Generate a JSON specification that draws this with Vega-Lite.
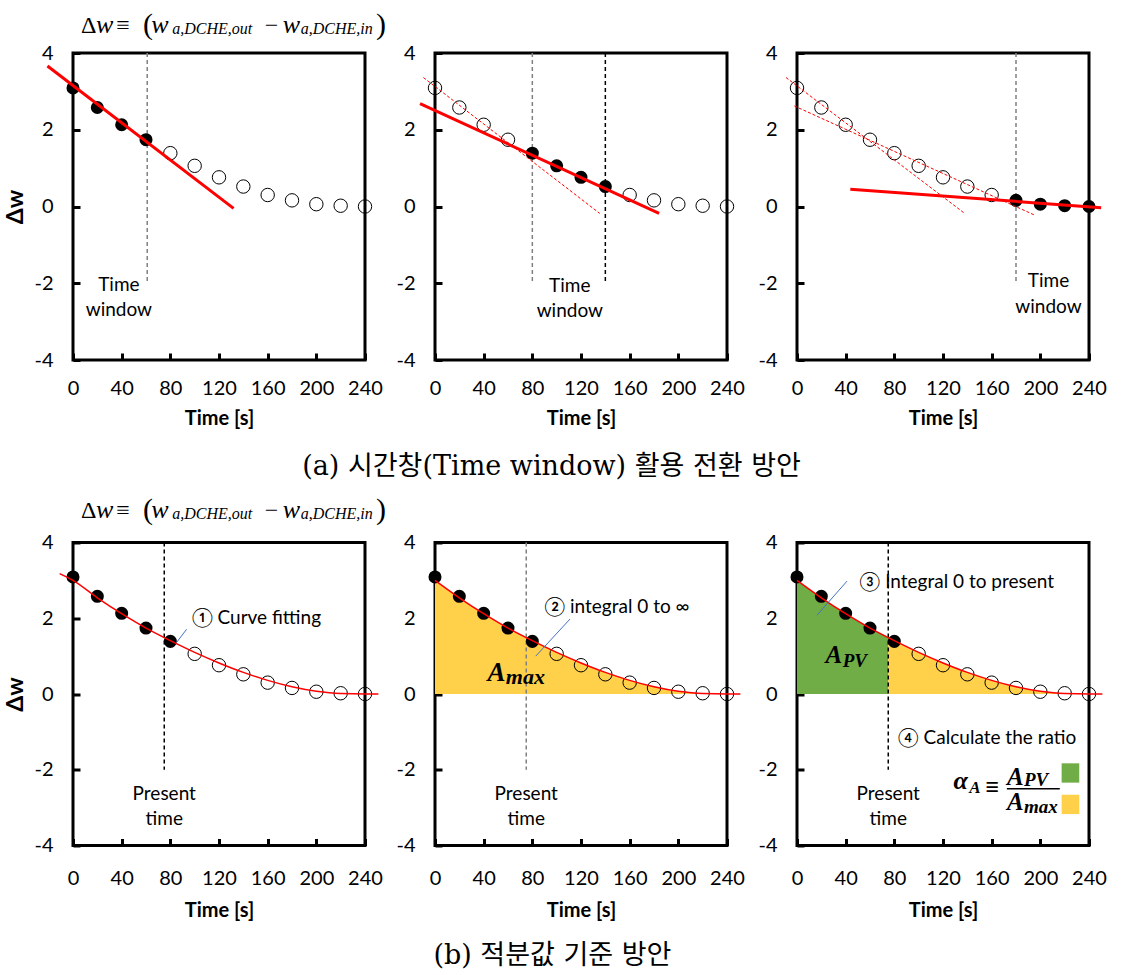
{
"$schema": "https://vega.github.io/schema/vega-lite/v6.json",
"padding": {"left": 3, "top": 8, "right": 0, "bottom": 0},
"background": "white",
"config": {
  "view": {"stroke": "#000", "strokeWidth": 3},
  "axis": {"grid": false, "domain": false, "ticks": true, "tickSize": -7, "tickWidth": 3, "tickColor": "#000", "labelFont": "Lato", "labelFontSize": 20, "labelColor": "#000", "titleFont": "Lato", "titleFontWeight": "bold", "titleColor": "#000", "labelOverlap": false, "labelFlush": false, "labelExpr": "'' + datum.value"},
  "axisX": {"labelPadding": 25, "titleFontSize": 20, "titlePadding": 10, "labelAngle": 0},
  "axisY": {"labelPadding": 27, "titleFontSize": 23, "titlePadding": 6},
  "text": {"font": "Lato", "fontSize": 19, "color": "#000"}
},
"datasets": {
  "pts": [{"x":0,"y":3.09},{"x":20,"y":2.58},{"x":40,"y":2.13},{"x":60,"y":1.74},{"x":80,"y":1.39},{"x":100,"y":1.06},{"x":120,"y":0.76},{"x":140,"y":0.52},{"x":160,"y":0.30},{"x":180,"y":0.16},{"x":200,"y":0.06},{"x":220,"y":0.02},{"x":240,"y":0.0}],
  "curve": [{"x":-11,"y":3.18},{"x":0,"y":3.0},{"x":20,"y":2.54},{"x":40,"y":2.12},{"x":60,"y":1.74},{"x":75,"y":1.49},{"x":80,"y":1.41},{"x":100,"y":1.10},{"x":120,"y":0.82},{"x":140,"y":0.57},{"x":160,"y":0.36},{"x":180,"y":0.19},{"x":200,"y":0.07},{"x":220,"y":0.01},{"x":240,"y":0.0},{"x":251,"y":0.0}]
},
"columns": 3,
"spacing": {"row": 182.5, "column": 70},
"bounds": "flush",
"concat": [
{
  "width": 292, "height": 307,
  "encoding": {
    "x": {"field": "x", "type": "quantitative", "scale": {"domain": [0, 240], "nice": false, "zero": false}, "axis": {"values": [0,40,80,120,160,200,240], "title": "Time [s]"}},
    "y": {"field": "y", "type": "quantitative", "scale": {"domain": [-4, 4], "nice": false}, "axis": {"values": [-4,-2,0,2,4], "title": "Δw"}}
  },
  "layer": [
    {"data": {"values": [{"x": -12, "x2": 251}]}, "mark": {"type": "rule", "color": "#808080", "strokeWidth": 1, "clip": false}, "encoding": {"x2": {"field": "x2"}, "y": {"datum": 0}}},
    {"data": {"values": [{"x": 61, "y": 4, "y2": -2}]}, "mark": {"type": "rule", "color": "#808080", "strokeWidth": 1.5, "strokeDash": [4, 3]}, "encoding": {"y2": {"field": "y2"}}},
    {"data": {"name": "pts"}, "transform": [{"filter": "datum.x > 60"}], "mark": {"type": "point", "shape": "circle", "filled": false, "color": "#000", "strokeWidth": 1, "size": 180, "opacity": 1, "clip": false}},
    {"data": {"name": "pts"}, "transform": [{"filter": "datum.x <= 60"}], "mark": {"type": "circle", "color": "#000", "size": 170, "opacity": 1, "clip": false}},
    {"data": {"values": [{"x": -21, "y": 3.66}, {"x": 132, "y": -0.05}]}, "mark": {"type": "line", "color": "#FF0000", "strokeWidth": 3, "clip": false}},
    {"data": {"values": [{"x": 37.7, "y": -2.04, "t": "Time"}, {"x": 37.7, "y": -2.69, "t": "window"}]}, "mark": {"type": "text", "align": "center", "baseline": "middle"}, "encoding": {"text": {"field": "t"}}},
    {"data": {"values": [{"x": 6.6, "y": 4.53, "t": "Δ"}, {"x": 35.5, "y": 4.53, "t": "≡"}, {"x": 157.5, "y": 4.53, "t": "−"}]}, "mark": {"type": "text", "font": "Liberation Serif", "fontSize": 24, "align": "left", "baseline": "alphabetic"}, "encoding": {"text": {"field": "t"}}},
    {"data": {"values": [{"x": 18.9, "y": 4.53, "t": "w"}, {"x": 64.3, "y": 4.53, "t": "w"}, {"x": 172.4, "y": 4.53, "t": "w"}]}, "mark": {"type": "text", "font": "Liberation Serif", "fontStyle": "italic", "fontSize": 26, "align": "left", "baseline": "alphabetic"}, "encoding": {"text": {"field": "t"}}},
    {"data": {"values": [{"x": 57.5, "y": 4.5, "t": "("}, {"x": 249, "y": 4.5, "t": ")"}]}, "mark": {"type": "text", "font": "Liberation Serif", "fontSize": 30, "align": "left", "baseline": "alphabetic"}, "encoding": {"text": {"field": "t"}}},
    {"data": {"values": [{"x": 81.6, "y": 4.5, "t": "a,DCHE,out"}, {"x": 187.2, "y": 4.5, "t": "a,DCHE,in"}]}, "mark": {"type": "text", "font": "Liberation Serif", "fontStyle": "italic", "fontSize": 16, "align": "left", "baseline": "alphabetic"}, "encoding": {"text": {"field": "t"}}}
  ]
},
{
  "width": 292, "height": 307,
  "encoding": {
    "x": {"field": "x", "type": "quantitative", "scale": {"domain": [0, 240], "nice": false, "zero": false}, "axis": {"values": [0,40,80,120,160,200,240], "title": "Time [s]"}},
    "y": {"field": "y", "type": "quantitative", "scale": {"domain": [-4, 4], "nice": false}, "axis": {"values": [-4,-2,0,2,4], "title": null}}
  },
  "layer": [
    {"data": {"values": [{"x": -12, "x2": 250}]}, "mark": {"type": "rule", "color": "#808080", "strokeWidth": 1, "clip": false}, "encoding": {"x2": {"field": "x2"}, "y": {"datum": 0}}},
    {"data": {"values": [{"x": 80, "y": 4, "y2": -2}]}, "mark": {"type": "rule", "color": "#808080", "strokeWidth": 1.5, "strokeDash": [4, 3]}, "encoding": {"y2": {"field": "y2"}}},
    {"data": {"values": [{"x": 140, "y": 4, "y2": -2}]}, "mark": {"type": "rule", "color": "#000", "strokeWidth": 1.5, "strokeDash": [4, 3]}, "encoding": {"y2": {"field": "y2"}}},
    {"data": {"name": "pts"}, "transform": [{"filter": "datum.x < 80 || datum.x > 140"}], "mark": {"type": "point", "shape": "circle", "filled": false, "color": "#000", "strokeWidth": 1, "size": 180, "opacity": 1, "clip": false}},
    {"data": {"name": "pts"}, "transform": [{"filter": "datum.x >= 80 && datum.x <= 140"}], "mark": {"type": "circle", "color": "#000", "size": 170, "opacity": 1, "clip": false}},
    {"data": {"values": [{"x": -9.5, "y": 3.36}, {"x": 135.4, "y": -0.18}]}, "mark": {"type": "line", "color": "#FF0000", "strokeWidth": 1, "strokeDash": [3, 2], "clip": false}},
    {"data": {"values": [{"x": -12.3, "y": 2.68}, {"x": 184.2, "y": -0.18}]}, "mark": {"type": "line", "color": "#FF0000", "strokeWidth": 3, "clip": false}},
    {"data": {"values": [{"x": 110.8, "y": -2.07, "t": "Time"}, {"x": 110.8, "y": -2.72, "t": "window"}]}, "mark": {"type": "text", "align": "center", "baseline": "middle"}, "encoding": {"text": {"field": "t"}}},
    {"data": {"values": [{"x": 95.8, "y": -6.79, "t": "(a) 시간창(Time window) 활용 전환 방안"}]}, "mark": {"type": "text", "font": "DejaVu Serif, Noto Sans CJK KR", "fontSize": 27, "align": "center", "baseline": "middle"}, "encoding": {"text": {"field": "t"}}}
  ]
},
{
  "width": 292, "height": 307,
  "encoding": {
    "x": {"field": "x", "type": "quantitative", "scale": {"domain": [0, 240], "nice": false, "zero": false}, "axis": {"values": [0,40,80,120,160,200,240], "title": "Time [s]"}},
    "y": {"field": "y", "type": "quantitative", "scale": {"domain": [-4, 4], "nice": false}, "axis": {"values": [-4,-2,0,2,4], "title": null}}
  },
  "layer": [
    {"data": {"values": [{"x": -12, "x2": 250}]}, "mark": {"type": "rule", "color": "#808080", "strokeWidth": 1, "clip": false}, "encoding": {"x2": {"field": "x2"}, "y": {"datum": 0}}},
    {"data": {"values": [{"x": 180, "y": 4, "y2": -2}]}, "mark": {"type": "rule", "color": "#808080", "strokeWidth": 1.5, "strokeDash": [4, 3]}, "encoding": {"y2": {"field": "y2"}}},
    {"data": {"name": "pts"}, "transform": [{"filter": "datum.x < 180"}], "mark": {"type": "point", "shape": "circle", "filled": false, "color": "#000", "strokeWidth": 1, "size": 180, "opacity": 1, "clip": false}},
    {"data": {"name": "pts"}, "transform": [{"filter": "datum.x >= 180"}], "mark": {"type": "circle", "color": "#000", "size": 170, "opacity": 1, "clip": false}},
    {"data": {"values": [{"id": 1, "x": -9, "y": 3.36}, {"id": 1, "x": 137, "y": -0.16}, {"id": 2, "x": -2.2, "y": 2.62}, {"id": 2, "x": 195, "y": -0.22}]}, "mark": {"type": "line", "color": "#FF0000", "strokeWidth": 1, "strokeDash": [3, 2], "clip": false}, "encoding": {"detail": {"field": "id"}}},
    {"data": {"values": [{"x": 43.8, "y": 0.45}, {"x": 250, "y": -0.03}]}, "mark": {"type": "line", "color": "#FF0000", "strokeWidth": 3, "clip": false}},
    {"data": {"values": [{"x": 206.7, "y": -1.94, "t": "Time"}, {"x": 206.7, "y": -2.63, "t": "window"}]}, "mark": {"type": "text", "align": "center", "baseline": "middle"}, "encoding": {"text": {"field": "t"}}}
  ]
},
{
  "width": 292, "height": 303,
  "encoding": {
    "x": {"field": "x", "type": "quantitative", "scale": {"domain": [0, 240], "nice": false, "zero": false}, "axis": {"values": [0,40,80,120,160,200,240], "title": "Time [s]", "labelPadding": 30, "titlePadding": 12}},
    "y": {"field": "y", "type": "quantitative", "scale": {"domain": [-4, 4], "nice": false}, "axis": {"values": [-4,-2,0,2,4], "title": "Δw"}}
  },
  "layer": [
    {"data": {"values": [{"x": -12, "x2": 251}]}, "mark": {"type": "rule", "color": "#808080", "strokeWidth": 1, "clip": false}, "encoding": {"x2": {"field": "x2"}, "y": {"datum": 0}}},
    {"data": {"values": [{"x": 75, "y": 4, "y2": -2}]}, "mark": {"type": "rule", "color": "#000", "strokeWidth": 1.5, "strokeDash": [4, 3]}, "encoding": {"y2": {"field": "y2"}}},
    {"data": {"name": "pts"}, "transform": [{"filter": "datum.x > 80"}], "mark": {"type": "point", "shape": "circle", "filled": false, "color": "#000", "strokeWidth": 1, "size": 180, "opacity": 1, "clip": false}},
    {"data": {"name": "pts"}, "transform": [{"filter": "datum.x <= 80"}], "mark": {"type": "circle", "color": "#000", "size": 170, "opacity": 1, "clip": false}},
    {"data": {"name": "curve"}, "mark": {"type": "line", "color": "#FF0000", "strokeWidth": 1.5, "interpolate": "monotone", "clip": false}},
    {"data": {"values": [{"x": 75, "y": -2.63, "t": "Present"}, {"x": 75, "y": -3.29, "t": "time"}]}, "mark": {"type": "text", "align": "center", "baseline": "middle"}, "encoding": {"text": {"field": "t"}}},
    {"data": {"values": [{"x": 97.5, "y": 2.0, "t": "① Curve fitting"}]}, "mark": {"type": "text", "align": "left", "baseline": "middle"}, "encoding": {"text": {"field": "t"}}},
    {"data": {"values": [{"x": 85.1, "y": 1.36, "x2": 93.4, "y2": 1.71}]}, "mark": {"type": "rule", "color": "#4472C4", "strokeWidth": 1, "clip": false}, "encoding": {"x2": {"field": "x2"}, "y2": {"field": "y2"}}},
    {"data": {"values": [{"x": 6.6, "y": 4.66, "t": "Δ"}, {"x": 35.5, "y": 4.66, "t": "≡"}, {"x": 157.5, "y": 4.66, "t": "−"}]}, "mark": {"type": "text", "font": "Liberation Serif", "fontSize": 24, "align": "left", "baseline": "alphabetic"}, "encoding": {"text": {"field": "t"}}},
    {"data": {"values": [{"x": 18.9, "y": 4.66, "t": "w"}, {"x": 64.3, "y": 4.66, "t": "w"}, {"x": 172.4, "y": 4.66, "t": "w"}]}, "mark": {"type": "text", "font": "Liberation Serif", "fontStyle": "italic", "fontSize": 26, "align": "left", "baseline": "alphabetic"}, "encoding": {"text": {"field": "t"}}},
    {"data": {"values": [{"x": 57.5, "y": 4.63, "t": "("}, {"x": 249, "y": 4.63, "t": ")"}]}, "mark": {"type": "text", "font": "Liberation Serif", "fontSize": 30, "align": "left", "baseline": "alphabetic"}, "encoding": {"text": {"field": "t"}}},
    {"data": {"values": [{"x": 81.6, "y": 4.63, "t": "a,DCHE,out"}, {"x": 187.2, "y": 4.63, "t": "a,DCHE,in"}]}, "mark": {"type": "text", "font": "Liberation Serif", "fontStyle": "italic", "fontSize": 16, "align": "left", "baseline": "alphabetic"}, "encoding": {"text": {"field": "t"}}}
  ]
},
{
  "width": 292, "height": 303,
  "encoding": {
    "x": {"field": "x", "type": "quantitative", "scale": {"domain": [0, 240], "nice": false, "zero": false}, "axis": {"values": [0,40,80,120,160,200,240], "title": "Time [s]", "labelPadding": 30, "titlePadding": 12}},
    "y": {"field": "y", "type": "quantitative", "scale": {"domain": [-4, 4], "nice": false}, "axis": {"values": [-4,-2,0,2,4], "title": null}}
  },
  "layer": [
    {"data": {"name": "curve"}, "transform": [{"filter": "datum.x >= 0 && datum.x <= 220"}], "mark": {"type": "area", "color": "#FFD04A", "opacity": 1, "interpolate": "monotone"}, "encoding": {"y2": {"datum": 0}}},
    {"data": {"values": [{"x": -12, "x2": 250}]}, "mark": {"type": "rule", "color": "#808080", "strokeWidth": 1, "clip": false}, "encoding": {"x2": {"field": "x2"}, "y": {"datum": 0}}},
    {"data": {"values": [{"x": 75, "y": 4, "y2": -2}]}, "mark": {"type": "rule", "color": "#808080", "strokeWidth": 1.5, "strokeDash": [4, 3]}, "encoding": {"y2": {"field": "y2"}}},
    {"data": {"name": "pts"}, "transform": [{"filter": "datum.x > 80"}], "mark": {"type": "point", "shape": "circle", "filled": false, "color": "#000", "strokeWidth": 1, "size": 180, "opacity": 1, "clip": false}},
    {"data": {"name": "pts"}, "transform": [{"filter": "datum.x <= 80"}], "mark": {"type": "circle", "color": "#000", "size": 170, "opacity": 1, "clip": false}},
    {"data": {"name": "curve"}, "transform": [{"filter": "datum.x >= 0"}], "mark": {"type": "line", "color": "#FF0000", "strokeWidth": 1.5, "interpolate": "monotone", "clip": false}},
    {"data": {"values": [{"x": 75, "y": -2.63, "t": "Present"}, {"x": 75, "y": -3.29, "t": "time"}]}, "mark": {"type": "text", "align": "center", "baseline": "middle"}, "encoding": {"text": {"field": "t"}}},
    {"data": {"values": [{"x": 89.7, "y": 2.3, "t": "② integral 0 to ∞"}]}, "mark": {"type": "text", "align": "left", "baseline": "middle"}, "encoding": {"text": {"field": "t"}}},
    {"data": {"values": [{"x": 111, "y": 1.98, "x2": 82.8, "y2": 1.0}]}, "mark": {"type": "rule", "color": "#4472C4", "strokeWidth": 1, "clip": false}, "encoding": {"x2": {"field": "x2"}, "y2": {"field": "y2"}}},
    {"data": {"values": [{"x": 43.2, "y": 0.35, "t": "A"}]}, "mark": {"type": "text", "font": "Liberation Serif", "fontStyle": "italic", "fontWeight": "bold", "fontSize": 27, "align": "left", "baseline": "alphabetic"}, "encoding": {"text": {"field": "t"}}},
    {"data": {"values": [{"x": 58.2, "y": 0.26, "t": "max"}]}, "mark": {"type": "text", "font": "Liberation Serif", "fontStyle": "italic", "fontWeight": "bold", "fontSize": 22, "align": "left", "baseline": "alphabetic"}, "encoding": {"text": {"field": "t"}}},
    {"data": {"values": [{"x": 96.5, "y": -6.92, "t": "(b) 적분값 기준 방안"}]}, "mark": {"type": "text", "font": "DejaVu Serif, Noto Sans CJK KR", "fontSize": 27, "align": "center", "baseline": "middle"}, "encoding": {"text": {"field": "t"}}}
  ]
},
{
  "width": 292, "height": 303,
  "encoding": {
    "x": {"field": "x", "type": "quantitative", "scale": {"domain": [0, 240], "nice": false, "zero": false}, "axis": {"values": [0,40,80,120,160,200,240], "title": "Time [s]", "labelPadding": 30, "titlePadding": 12}},
    "y": {"field": "y", "type": "quantitative", "scale": {"domain": [-4, 4], "nice": false}, "axis": {"values": [-4,-2,0,2,4], "title": null}}
  },
  "layer": [
    {"data": {"name": "curve"}, "transform": [{"filter": "datum.x >= 0 && datum.x <= 75"}], "mark": {"type": "area", "color": "#70AD47", "opacity": 1, "interpolate": "monotone"}, "encoding": {"y2": {"datum": 0}}},
    {"data": {"name": "curve"}, "transform": [{"filter": "datum.x >= 75 && datum.x <= 220"}], "mark": {"type": "area", "color": "#FFD04A", "opacity": 1, "interpolate": "monotone"}, "encoding": {"y2": {"datum": 0}}},
    {"data": {"values": [{"x": -12, "x2": 250}]}, "mark": {"type": "rule", "color": "#808080", "strokeWidth": 1, "clip": false}, "encoding": {"x2": {"field": "x2"}, "y": {"datum": 0}}},
    {"data": {"values": [{"x": 75, "y": 4, "y2": -2}]}, "mark": {"type": "rule", "color": "#000", "strokeWidth": 1.5, "strokeDash": [4, 3]}, "encoding": {"y2": {"field": "y2"}}},
    {"data": {"name": "pts"}, "transform": [{"filter": "datum.x > 80"}], "mark": {"type": "point", "shape": "circle", "filled": false, "color": "#000", "strokeWidth": 1, "size": 180, "opacity": 1, "clip": false}},
    {"data": {"name": "pts"}, "transform": [{"filter": "datum.x <= 80"}], "mark": {"type": "circle", "color": "#000", "size": 170, "opacity": 1, "clip": false}},
    {"data": {"name": "curve"}, "transform": [{"filter": "datum.x >= 0"}], "mark": {"type": "line", "color": "#FF0000", "strokeWidth": 1.5, "interpolate": "monotone", "clip": false}},
    {"data": {"values": [{"x": 75, "y": -2.63, "t": "Present"}, {"x": 75, "y": -3.29, "t": "time"}]}, "mark": {"type": "text", "align": "center", "baseline": "middle"}, "encoding": {"text": {"field": "t"}}},
    {"data": {"values": [{"x": 51.2, "y": 2.96, "t": "③ Integral 0 to present"}, {"x": 82.8, "y": -1.15, "t": "④ Calculate the ratio"}]}, "mark": {"type": "text", "align": "left", "baseline": "middle"}, "encoding": {"text": {"field": "t"}}},
    {"data": {"values": [{"x": 41.1, "y": 2.98, "x2": 16.4, "y2": 2.08}]}, "mark": {"type": "rule", "color": "#4472C4", "strokeWidth": 1, "clip": false}, "encoding": {"x2": {"field": "x2"}, "y2": {"field": "y2"}}},
    {"data": {"values": [{"x": 23.5, "y": 0.83, "t": "A"}, {"x": 172.5, "y": -2.40, "t": "A"}, {"x": 172.5, "y": -3.07, "t": "A"}]}, "mark": {"type": "text", "font": "Liberation Serif", "fontStyle": "italic", "fontWeight": "bold", "fontSize": 25, "align": "left", "baseline": "alphabetic"}, "encoding": {"text": {"field": "t"}}},
    {"data": {"values": [{"x": 37.5, "y": 0.72, "t": "PV"}, {"x": 186.5, "y": -2.43, "t": "PV"}, {"x": 186.5, "y": -3.13, "t": "max"}]}, "mark": {"type": "text", "font": "Liberation Serif", "fontStyle": "italic", "fontWeight": "bold", "fontSize": 19, "align": "left", "baseline": "alphabetic"}, "encoding": {"text": {"field": "t"}}},
    {"data": {"values": [{"x": 134.5, "y": -2.51, "t": "α"}]}, "mark": {"type": "text", "font": "Liberation Serif", "fontStyle": "italic", "fontWeight": "bold", "fontSize": 26, "align": "center", "baseline": "alphabetic"}, "encoding": {"text": {"field": "t"}}},
    {"data": {"values": [{"x": 141.5, "y": -2.62, "t": "A"}]}, "mark": {"type": "text", "font": "Liberation Serif", "fontStyle": "italic", "fontWeight": "bold", "fontSize": 17, "align": "left", "baseline": "alphabetic"}, "encoding": {"text": {"field": "t"}}},
    {"data": {"values": [{"x": 160.5, "y": -2.47, "t": "≡"}]}, "mark": {"type": "text", "font": "Liberation Serif", "fontWeight": "bold", "fontSize": 24, "align": "center", "baseline": "middle"}, "encoding": {"text": {"field": "t"}}},
    {"data": {"values": [{"x": 172.5, "x2": 216, "y": -2.5}]}, "mark": {"type": "rule", "color": "#000", "strokeWidth": 1.5, "clip": false}, "encoding": {"x2": {"field": "x2"}}},
    {"data": {"values": [{"x": 217.5, "x2": 232, "y": -1.83, "y2": -2.34}]}, "mark": {"type": "rect", "color": "#70AD47", "clip": false}, "encoding": {"x2": {"field": "x2"}, "y2": {"field": "y2"}}},
    {"data": {"values": [{"x": 217.5, "x2": 232, "y": -2.66, "y2": -3.17}]}, "mark": {"type": "rect", "color": "#FFD04A", "clip": false}, "encoding": {"x2": {"field": "x2"}, "y2": {"field": "y2"}}}
  ]
}
]
}
